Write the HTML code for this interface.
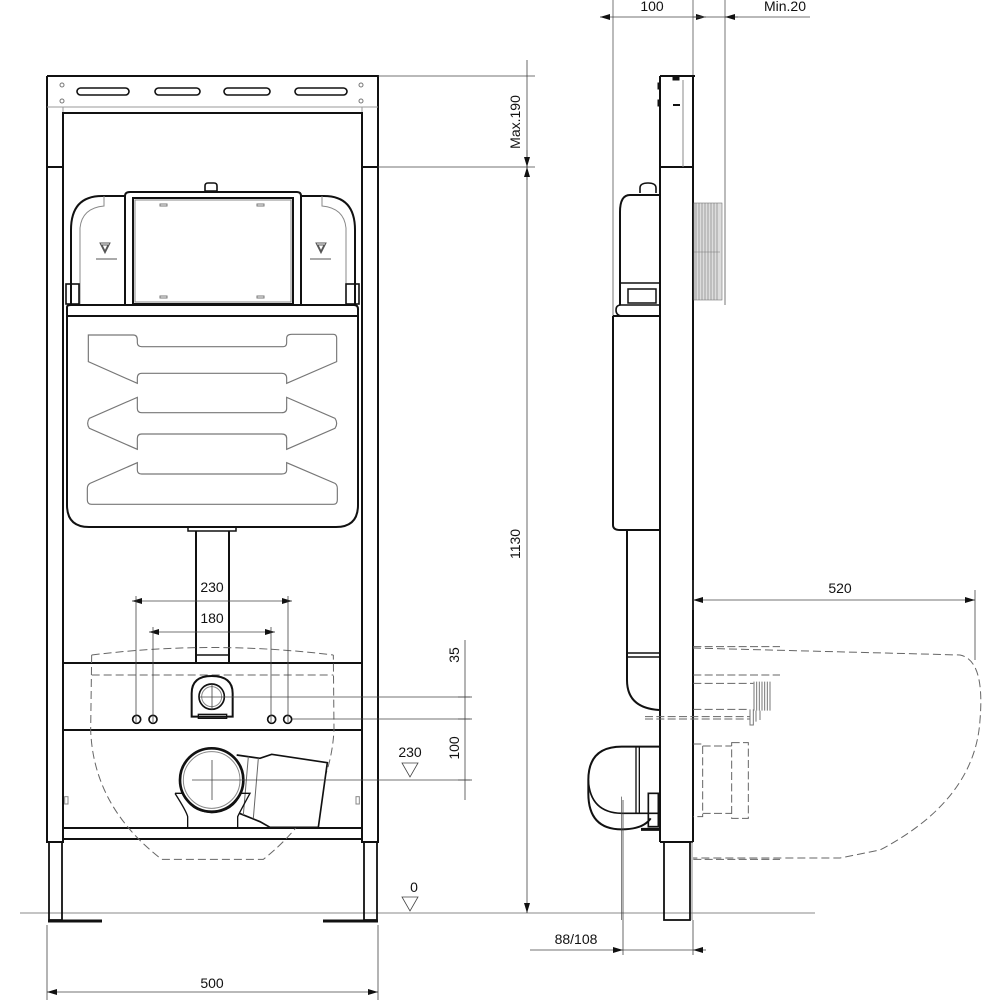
<!DOCTYPE html>
<html><head><meta charset="utf-8"><style>
html,body{margin:0;padding:0;background:#fff}
svg{display:block}
text{font-family:"Liberation Sans",sans-serif;font-size:14px;fill:#111}
</style></head><body>
<svg width="1000" height="1000" viewBox="0 0 1000 1000" xmlns="http://www.w3.org/2000/svg">
<defs>
<marker id="a" viewBox="0 0 10 6" refX="10" refY="3" markerWidth="10" markerHeight="6" orient="auto-start-reverse" markerUnits="userSpaceOnUse"><path d="M0,0 L10,3 L0,6 Z" fill="#111"/></marker>
</defs>
<g fill="none" stroke="#111" stroke-width="1">
<!-- ground line -->
<line x1="20" y1="913" x2="815" y2="913" stroke="#888"/>
<!-- FRONT frame -->
<path d="M47,76 H378 V167 M47,76 V167" stroke-width="2"/>
<line x1="47" y1="107" x2="378" y2="107" stroke="#999"/>
<line x1="63" y1="107" x2="63" y2="167" stroke="#999"/>
<line x1="362" y1="107" x2="362" y2="167" stroke="#999"/>
<path d="M63,167 V113 H362 V167" stroke-width="2"/>
<rect x="77" y="88" width="52" height="7" rx="3.5" stroke-width="1.6"/>
<rect x="155" y="88" width="45" height="7" rx="3.5" stroke-width="1.6"/>
<rect x="224" y="88" width="46" height="7" rx="3.5" stroke-width="1.6"/>
<rect x="295" y="88" width="52" height="7" rx="3.5" stroke-width="1.6"/>
<circle cx="62" cy="85" r="2" stroke="#777"/><circle cx="62" cy="101" r="2" stroke="#777"/>
<circle cx="361" cy="85" r="2" stroke="#777"/><circle cx="361" cy="101" r="2" stroke="#777"/>
<!-- posts -->
<rect x="47" y="167" width="16" height="675" stroke-width="2"/>
<rect x="362" y="167" width="16" height="675" stroke-width="2"/>
<rect x="49" y="842" width="13" height="78" stroke-width="1.8"/>
<rect x="364" y="842" width="13" height="78" stroke-width="1.8"/>
<line x1="48" y1="921" x2="102" y2="921" stroke-width="3"/>
<line x1="323" y1="921" x2="378" y2="921" stroke-width="3"/>
<!-- crossbars -->
<line x1="63" y1="663" x2="362" y2="663" stroke-width="2"/>
<line x1="63" y1="730" x2="362" y2="730" stroke-width="2"/>
<line x1="63" y1="828" x2="362" y2="828" stroke-width="2"/>
<line x1="63" y1="839" x2="362" y2="839" stroke-width="2"/>
<!-- cistern top -->
<path d="M125,305 V196 Q125,192 130,192 H297 Q301,192 301,196 V305" stroke-width="2"/>
<rect x="133" y="198" width="160" height="106" stroke-width="2"/>
<rect x="135" y="200" width="156" height="102" stroke="#888"/>
<rect x="160" y="204" width="7" height="2" stroke="#777"/><rect x="257" y="204" width="7" height="2" stroke="#777"/>
<rect x="160" y="296" width="7" height="2" stroke="#777"/><rect x="257" y="296" width="7" height="2" stroke="#777"/>
<path d="M205,191 V186 Q205,183 208,183 H214 Q217,183 217,186 V191 Z" stroke-width="1.6"/>
<path d="M125,196 H102 Q71,196 71,230 V305 M301,196 H324 Q355,196 355,230 V305" stroke-width="2"/>
<path d="M104,196 V206 Q82,208 80,228 V305 M322,196 V206 Q344,208 346,228 V305" stroke="#888"/>
<path d="M100,243 L110,243 L105,253 Z M102,245 L108,245 L105,251 Z" stroke="#555"/>
<path d="M316,243 L326,243 L321,253 Z M318,245 L324,245 L321,251 Z" stroke="#555"/>
<line x1="96" y1="259" x2="117" y2="259" stroke="#555"/><line x1="310" y1="259" x2="331" y2="259" stroke="#555"/>
<rect x="66" y="284" width="13" height="20" stroke-width="1.6"/><rect x="346" y="284" width="13" height="20" stroke-width="1.6"/>
<!-- cistern body -->
<path d="M67,316 V307 Q67,305 71,305 H354 Q358,305 358,309 V316" stroke-width="2"/>
<path d="M67,316 H358 V505 Q358,527 336,527 H89 Q67,527 67,505 Z" stroke-width="2"/>
<g transform="translate(60,300) scale(0.33333)" stroke="#777" stroke-width="3.5">
<path d="M85,105 L220,105 Q232,105 232,120 L232,128 Q232,140 245,140 L670,140 Q680,140 680,128 L680,115 Q680,103 695,103 L820,103 Q830,103 830,115 L830,185 L680,250 L680,235 Q680,220 665,220 L245,220 Q232,220 232,235 L232,250 L85,185 Z"/>
<path d="M232,292 L232,325 Q232,338 245,338 L665,338 Q680,338 680,325 L680,292 L825,355 Q835,370 825,385 L680,448 L680,415 Q680,402 665,402 L245,402 Q232,402 232,415 L232,448 L88,385 Q78,370 88,355 Z"/>
<path d="M232,488 L232,510 Q232,522 245,522 L665,522 Q680,522 680,510 L680,488 L825,550 Q832,555 832,565 L832,600 Q832,613 820,613 L95,613 Q82,613 82,600 L82,565 Q82,555 90,550 Z"/>
</g>
<!-- flush pipe -->
<rect x="188" y="527" width="48" height="4" stroke-width="1.5"/>
<path d="M196,531 V663 M229,531 V663" stroke-width="2"/>
<line x1="196" y1="655" x2="229" y2="655" stroke-width="1.5"/>
<!-- lower details -->
<g transform="translate(40,620) scale(0.33333)">
<path d="M155,105 Q515,60 880,105" stroke="#666" stroke-width="3" stroke-dasharray="24,12"/>
<line x1="155" y1="165" x2="880" y2="165" stroke="#666" stroke-width="3" stroke-dasharray="24,12"/>
<path d="M155,105 L152,330 Q160,560 365,718 L670,718 Q870,560 882,330 L880,105" stroke="#666" stroke-width="3" stroke-dasharray="24,12"/>
<path d="M455,290 L455,220 Q455,168 515,168 Q578,168 578,220 L578,290 Z" stroke-width="6"/>
<rect x="475" y="283" width="85" height="12" stroke-width="4"/>
<circle cx="515" cy="230" r="38" stroke-width="5"/>
<circle cx="515" cy="230" r="30" stroke="#888" stroke-width="3"/>
<circle cx="290" cy="298" r="12" stroke-width="5"/><circle cx="339" cy="298" r="12" stroke-width="5"/>
<circle cx="695" cy="298" r="12" stroke-width="5"/><circle cx="743" cy="298" r="12" stroke-width="5"/>
<path d="M590,405 L660,415 L695,403 L862,428 L835,622 L690,622 L660,605 L598,580" stroke-width="5" fill="#fff"/>
<path d="M625,410 L610,585 M655,415 L640,595" stroke="#666" stroke-width="3"/>
<path d="M405,520 L430,520 Q450,575 515,578 Q580,575 602,520 L630,520 Q600,575 593,590 L593,625 M405,520 Q440,575 443,590 L443,625" stroke-width="4"/>
<circle cx="515" cy="480" r="95" stroke-width="8" fill="#fff"/>
<circle cx="515" cy="480" r="85" stroke="#888" stroke-width="3"/>
<rect x="74" y="530" width="10" height="22" stroke="#888" stroke-width="3"/>
<rect x="948" y="530" width="10" height="22" stroke="#888" stroke-width="3"/>
</g>
<!-- front dimensions -->
<g stroke="#444" stroke-width="0.8">
<line x1="132" y1="601" x2="292" y2="601" marker-start="url(#a)" marker-end="url(#a)"/>
<line x1="136" y1="596" x2="136" y2="722"/><line x1="288" y1="596" x2="288" y2="722"/>
<line x1="149" y1="632" x2="275" y2="632" marker-start="url(#a)" marker-end="url(#a)"/>
<line x1="153" y1="627" x2="153" y2="722"/><line x1="271" y1="627" x2="271" y2="722"/>
<line x1="212" y1="684" x2="212" y2="710"/><line x1="200" y1="697" x2="470" y2="697"/>
<line x1="292" y1="719" x2="470" y2="719"/>
<line x1="212" y1="760" x2="212" y2="800"/><line x1="192" y1="780" x2="470" y2="780"/>
<line x1="465" y1="640" x2="465" y2="800"/>
<line x1="458" y1="697" x2="472" y2="697"/><line x1="458" y1="719" x2="472" y2="719"/><line x1="458" y1="780" x2="472" y2="780"/>
<line x1="378" y1="167" x2="535" y2="167"/><line x1="378" y1="76" x2="535" y2="76"/>
<line x1="527" y1="60" x2="527" y2="913" marker-end="url(#a)"/>
<line x1="527" y1="150" x2="527" y2="167" marker-end="url(#a)"/>
<line x1="527" y1="180" x2="527" y2="167" marker-end="url(#a)"/>
<line x1="47" y1="925" x2="47" y2="1000"/><line x1="378" y1="925" x2="378" y2="1000"/>
<line x1="47" y1="992" x2="378" y2="992" marker-start="url(#a)" marker-end="url(#a)"/>
<path d="M402,763 H418 L410,777 Z M402,897 H418 L410,911 Z"/>
</g>
<!-- SIDE VIEW -->
<line x1="613" y1="0" x2="613" y2="318" stroke="#777"/>
<line x1="693" y1="0" x2="693" y2="76" stroke="#777"/>
<line x1="725" y1="0" x2="725" y2="305" stroke="#777"/>
<path d="M660,76 H695 M660,76 V842 M693,76 V842 M660,167 H693" stroke-width="2"/>
<line x1="683" y1="80" x2="683" y2="167" stroke="#888"/>
<rect x="673" y="77" width="6" height="3" fill="#111"/><line x1="673" y1="105" x2="680" y2="105" stroke-width="2"/>
<rect x="658" y="83" width="2" height="6" fill="#111"/><rect x="658" y="100" width="2" height="6" fill="#111"/>
<path d="M660,842 H693" stroke-width="2"/>
<rect x="664" y="842" width="26" height="78" stroke-width="1.8"/>
<line x1="692" y1="842" x2="692" y2="920" stroke="#888"/>
<!-- tank upper -->
<path d="M659,195 H630 Q620,195 620,212 V305" stroke-width="2"/>
<path d="M640,193 V188 Q640,183 648,183 Q656,183 656,188 V193" stroke-width="1.6"/>
<line x1="620" y1="283" x2="659" y2="283" stroke-width="1.5"/>
<rect x="628" y="289" width="28" height="14" stroke-width="1.5"/>
<path d="M659,305 H621 Q616,305 616,310 Q616,315 621,316 H659" stroke-width="1.6"/>
<g stroke="#777" stroke-width="0.6">
<rect x="694" y="203" width="28" height="97" fill="#ddd"/>
<path d="M696,203 V300 M699,203 V300 M702,203 V300 M705,203 V300 M708,203 V300 M711,203 V300 M714,203 V300 M717,203 V300"/>
<line x1="694" y1="252" x2="720" y2="252"/>
</g>
<!-- tank lower -->
<path d="M613,316 H659 M613,316 V525 Q613,530 620,530 H659" stroke-width="2"/>
<path d="M627,530 V680 Q627,708 659,710" stroke-width="2"/>
<line x1="627" y1="653" x2="659" y2="653" stroke-width="1.5"/><line x1="627" y1="657" x2="659" y2="657" stroke-width="1.5"/>
<g transform="translate(580,620) scale(0.33333)">
<path d="M238,380 L125,380 Q25,380 25,480 L25,520 Q25,628 125,628 Q190,628 212,595" stroke-width="6"/>
<path d="M25,480 Q30,578 125,580 L238,580" stroke-width="5"/>
<path d="M168,380 V580 M178,380 V580" stroke-width="4"/>
<line x1="125" y1="530" x2="125" y2="900" stroke="#444" stroke-width="2"/>
<rect x="205" y="520" width="30" height="100" stroke-width="5"/>
<line x1="183" y1="628" x2="238" y2="628" stroke-width="9"/>
<g stroke="#666" stroke-width="3" stroke-dasharray="24,10">
<line x1="340" y1="80" x2="600" y2="80"/><line x1="340" y1="165" x2="600" y2="165"/>
<line x1="340" y1="190" x2="520" y2="190"/>
<line x1="340" y1="268" x2="510" y2="268"/><line x1="195" y1="290" x2="510" y2="290"/>
<line x1="195" y1="297" x2="510" y2="297"/>
<path d="M340,372 H368 V590 H340 M368,378 H455 M368,580 H455 M455,368 H505 V595 H455 Z"/>
<line x1="340" y1="718" x2="600" y2="718"/>
</g>
<g stroke="#777" stroke-width="3">
<path d="M522,185 V272 M530,185 V272 M538,185 V272 M546,185 V272 M554,185 V272 M562,185 V272 M570,185 V272"/>
<path d="M510,268 V315 H520 V268 M528,272 V305 M540,272 V300"/>
</g>
</g>
<!-- bowl dashed side -->
<path d="M693,648 L960,655 Q985,660 980,720 Q975,800 880,850 L840,858 H693" stroke="#666" stroke-dasharray="8,4"/>
<!-- side dims -->
<g stroke="#444" stroke-width="0.8">
<line x1="600" y1="17" x2="706" y2="17" marker-start="url(#a)" marker-end="url(#a)"/>
<line x1="693" y1="17" x2="810" y2="17"/>
<line x1="693" y1="17" x2="706" y2="17"/><line x1="738" y1="17" x2="725" y2="17" marker-end="url(#a)"/>
<line x1="693" y1="580" x2="693" y2="610"/><line x1="975" y1="590" x2="975" y2="660"/>
<line x1="693" y1="600" x2="975" y2="600" marker-start="url(#a)" marker-end="url(#a)"/>
<line x1="623" y1="800" x2="623" y2="955"/><line x1="693" y1="920" x2="693" y2="955"/>
<line x1="530" y1="950" x2="623" y2="950" marker-end="url(#a)"/>
<line x1="706" y1="950" x2="693" y2="950" marker-end="url(#a)"/>
<line x1="623" y1="950" x2="693" y2="950"/>
</g>
</g>
<!-- labels -->
<text x="212" y="592" text-anchor="middle">230</text>
<text x="212" y="623" text-anchor="middle">180</text>
<text x="410" y="757" text-anchor="middle">230</text>
<text x="414" y="892" text-anchor="middle">0</text>
<text x="212" y="988" text-anchor="middle">500</text>
<text transform="translate(459,655) rotate(-90)" text-anchor="middle">35</text>
<text transform="translate(459,748) rotate(-90)" text-anchor="middle">100</text>
<text transform="translate(520,122) rotate(-90)" text-anchor="middle">Max.190</text>
<text transform="translate(520,544) rotate(-90)" text-anchor="middle">1130</text>
<text x="652" y="11" text-anchor="middle">100</text>
<text x="785" y="11" text-anchor="middle">Min.20</text>
<text x="840" y="593" text-anchor="middle">520</text>
<text x="576" y="944" text-anchor="middle">88/108</text>
</svg>
</body></html>
